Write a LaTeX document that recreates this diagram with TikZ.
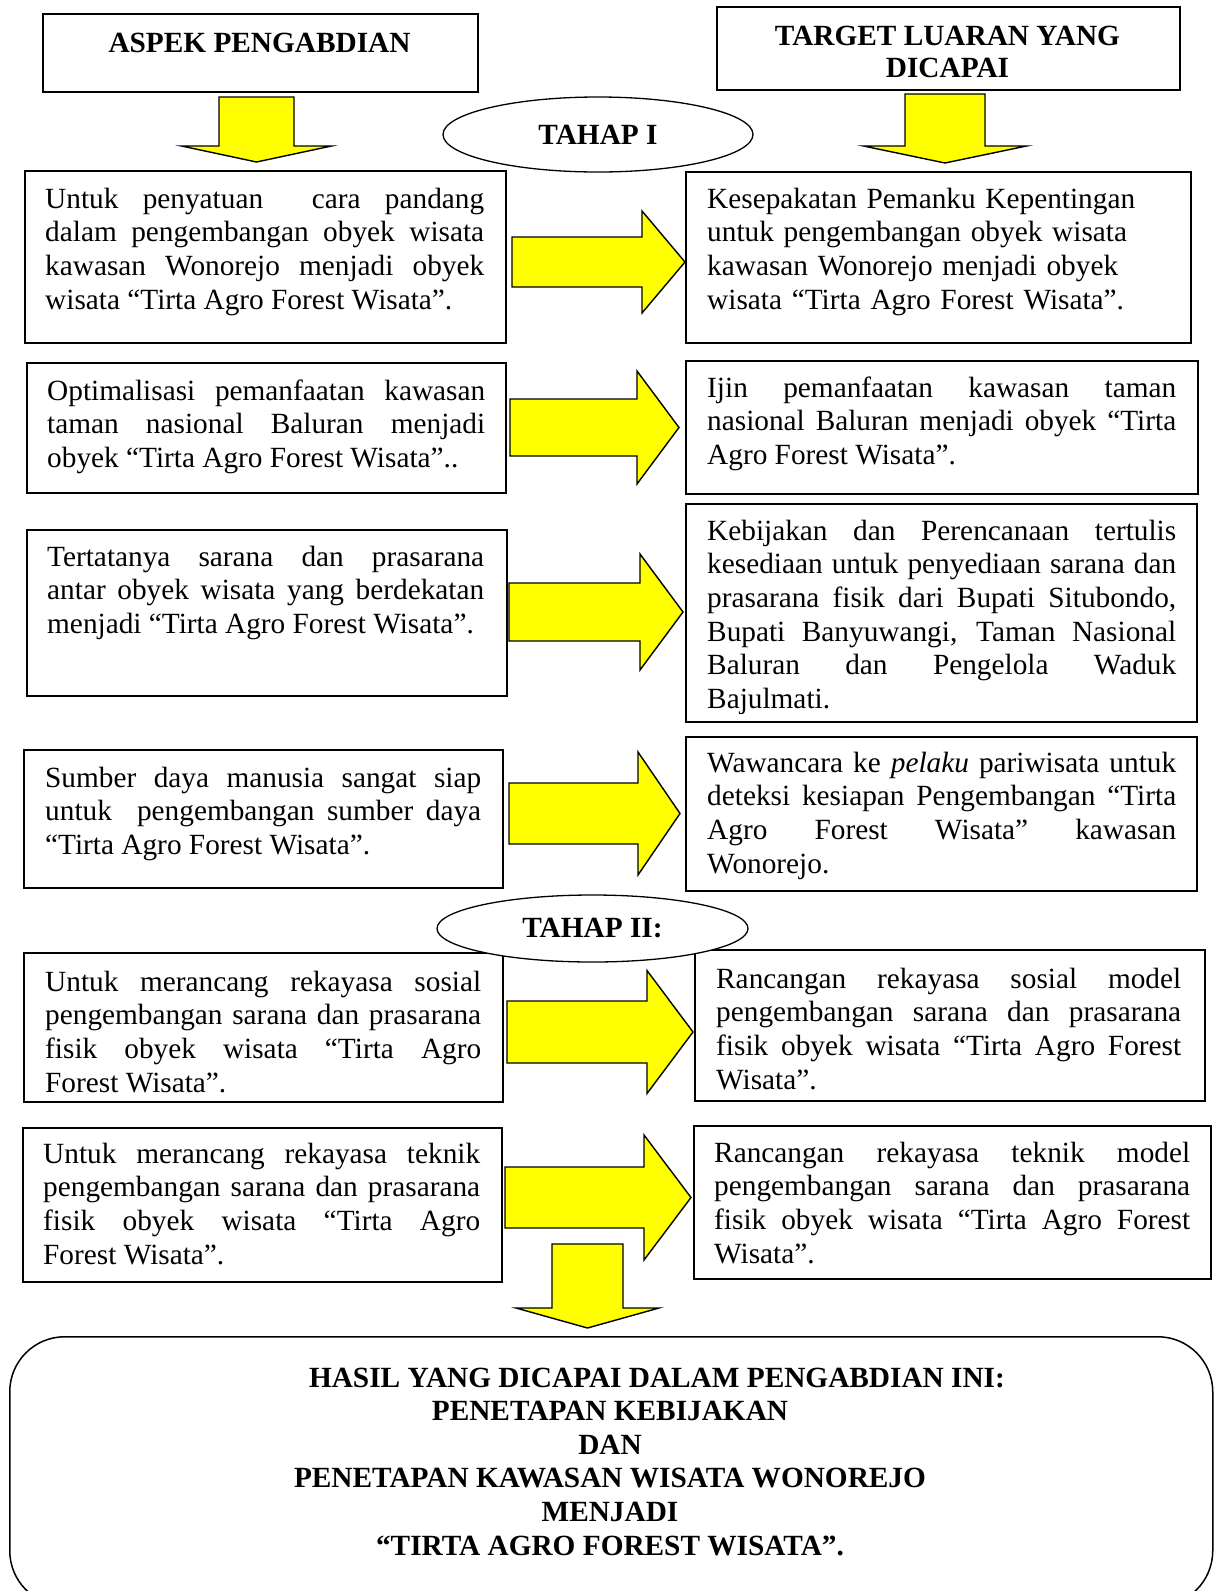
\documentclass[tikz,border=0pt]{standalone}
\usepackage{fontspec}
\setmainfont{Liberation Serif}
\usetikzlibrary{shapes.geometric}
\definecolor{kuning}{HTML}{ffff00}
\tolerance=10000 \hbadness=10000 \hyphenpenalty=10000 \exhyphenpenalty=10000
\setlength{\parindent}{0pt}
\newcommand{\panahkanan}[6]{\filldraw[panah] (#1,#4-#5) -- (#2,#4-#5) -- (#2,#4-#6) -- (#3,#4) -- (#2,#4+#6) -- (#2,#4+#5) -- (#1,#4+#5) -- cycle;}
\newcommand{\panahbawah}[6]{\filldraw[panah] (#1-#5,#2) -- (#1+#5,#2) -- (#1+#5,#3) -- (#1+#6,#3) -- (#1,#4) -- (#1-#6,#3) -- (#1-#5,#3) -- cycle;}

\begin{document}
\begin{tikzpicture}[x=1pt, y=-1pt,
            kotak/.style={draw, line width=1.5pt, anchor=north west, inner sep=0pt},
            teks/.style={anchor=north west, inner sep=0pt, align=justify, font=\fontsize{29.3}{33.7}\selectfont, execute at begin node=\strut},
            judul/.style={inner sep=0pt, font=\bfseries\fontsize{29.3}{32}\selectfont},
            tahap/.style={ellipse, draw, fill=white, line width=1.3pt, inner sep=0pt, font=\bfseries\fontsize{29.3}{32}\selectfont},
            panah/.style={fill=kuning, draw=black, line width=1.4pt, line join=miter}]
        \useasboundingbox (0,0) rectangle (1218,1591);
        \node[kotak, minimum width=435pt, minimum height=78pt] (hk) at (42,13) {};
        \node[kotak, minimum width=463pt, minimum height=83pt] (hn) at (716,6) {};
        \node[judul, anchor=base] (hkt) at (259.5,52) {ASPEK PENGABDIAN};
        \node[judul, anchor=north, align=center, execute at begin node=\strut] (hnt) at (947.5,25.6) {TARGET LUARAN YANG\\DICAPAI};
        \node[kotak, minimum width=481pt, minimum height=172pt] (k1) at (24,170) {};
        \node[kotak, minimum width=505pt, minimum height=171pt] (n1) at (685,171) {};
        \node[kotak, minimum width=479pt, minimum height=130pt] (k2) at (26,362) {};
        \node[kotak, minimum width=512pt, minimum height=133pt] (n2) at (685,360) {};
        \node[kotak, minimum width=480pt, minimum height=166pt] (k3) at (26,529) {};
        \node[kotak, minimum width=511pt, minimum height=218pt] (n3) at (685,503) {};
        \node[kotak, minimum width=479pt, minimum height=138pt] (k4) at (23,749) {};
        \node[kotak, minimum width=511pt, minimum height=154pt] (n4) at (685,736) {};
        \node[kotak, minimum width=479pt, minimum height=149pt] (k5) at (23,952) {};
        \node[kotak, minimum width=510pt, minimum height=151pt] (n5) at (694,949) {};
        \node[kotak, minimum width=479pt, minimum height=154pt] (k6) at (22,1127) {};
        \node[kotak, minimum width=517pt, minimum height=153pt] (n6) at (693,1125) {};
        \node[teks, text width=439pt] (k1t) at (45,184.4) {Untuk penyatuan\ \ cara pandang\linebreak
            dalam pengembangan obyek wisata\linebreak kawasan Wonorejo menjadi obyek\linebreak
            wisata “Tirta Agro Forest Wisata”.};
        \node[teks, text width=469pt, align=left] (n1t) at (707,184.4) {Kesepakatan Pemanku Kepentingan\\
            untuk pengembangan obyek wisata\\ kawasan Wonorejo menjadi obyek\\
            wisata “Tirta Agro Forest Wisata”.};
        \node[teks, text width=438pt] (k2t) at (47,376.4) {Optimalisasi pemanfaatan kawasan\linebreak
            taman nasional Baluran menjadi\linebreak obyek “Tirta Agro Forest Wisata”..};
        \node[teks, text width=469pt] (n2t) at (707,373.4) {Ijin pemanfaatan kawasan taman\linebreak
            nasional Baluran menjadi obyek “Tirta\linebreak Agro Forest Wisata”.};
        \node[teks, text width=437pt] (k3t) at (47,542.4) {Tertatanya sarana dan prasarana\linebreak
            antar obyek wisata yang berdekatan\linebreak menjadi “Tirta Agro Forest Wisata”.};
        \begin{scope}
            \clip (686,504) rectangle (1195,713);
            \node[teks, text width=469pt] (n3t) at (707,516.4) {Kebijakan dan Perencanaan tertulis\linebreak
                kesediaan untuk penyediaan sarana dan\linebreak prasarana fisik dari Bupati Situbondo,\linebreak
                Bupati Banyuwangi, Taman Nasional\linebreak Baluran dan Pengelola Waduk\linebreak Bajulmati.};
        \end{scope}
        \node[teks, text width=436pt] (k4t) at (45,763.4) {Sumber daya manusia sangat siap\linebreak
            untuk\ \ pengembangan sumber daya\linebreak “Tirta Agro Forest Wisata”.};
        \node[teks, text width=469pt] (n4t) at (707,748.4) {Wawancara ke \emph{pelaku} pariwisata untuk\linebreak
            deteksi kesiapan Pengembangan “Tirta\linebreak Agro Forest Wisata” kawasan\linebreak Wonorejo.};
        \node[teks, text width=436pt] (k5t) at (45,967.4) {Untuk merancang rekayasa sosial\linebreak
            pengembangan sarana dan prasarana\linebreak fisik obyek wisata “Tirta Agro\linebreak Forest Wisata”.};
        \node[teks, text width=465pt] (n5t) at (716,964.4) {Rancangan rekayasa sosial model\linebreak
            pengembangan sarana dan prasarana\linebreak fisik obyek wisata “Tirta Agro Forest\linebreak Wisata”.};
        \node[teks, text width=437pt] (k6t) at (43,1139.4) {Untuk merancang rekayasa teknik\linebreak
            pengembangan sarana dan prasarana\linebreak fisik obyek wisata “Tirta Agro\linebreak Forest Wisata”.};
        \node[teks, text width=476pt] (n6t) at (714,1138.4) {Rancangan rekayasa teknik model\linebreak
            pengembangan sarana dan prasarana\linebreak fisik obyek wisata “Tirta Agro Forest\linebreak Wisata”.};
        \panahbawah{256.5}{97}{146}{162}{37.5}{75}
        \panahbawah{945}{94}{146}{163}{40}{81.5}
        \panahkanan{512}{642}{685}{262}{25}{51}
        \panahkanan{510}{637}{679}{427.5}{28.5}{56.5}
        \panahkanan{509}{640}{683}{612}{29}{58}
        \panahkanan{509}{638}{680}{813.5}{30.5}{61.5}
        \panahkanan{507}{647}{693}{1032}{31}{61.5}
        \panahkanan{505}{644}{691}{1197.5}{30.5}{62.5}
        \panahbawah{587.5}{1244}{1308}{1328}{35.5}{71.5}
        \node[tahap, minimum width=310pt, minimum height=75pt] (th1) at (598,134.5) {TAHAP I};
        \node[tahap, minimum width=311pt, minimum height=67pt] (th2) at (592.5,928.5) {TAHAP II:};
        \node[kotak, rounded corners=55pt, minimum width=1203pt, minimum height=269pt] (hasil) at (9,1336) {};
        \node[judul, anchor=north, align=center, font=\bfseries\fontsize{29.3}{33.6}\selectfont, execute at begin node=\strut] (hasilt) at (610,1367.5)
            {\hspace*{94pt}HASIL YANG DICAPAI DALAM PENGABDIAN INI:\\ PENETAPAN KEBIJAKAN\\ DAN\\
            PENETAPAN KAWASAN WISATA WONOREJO\\ MENJADI\\ “TIRTA AGRO FOREST WISATA”.};
    \end{tikzpicture}
\end{document}
